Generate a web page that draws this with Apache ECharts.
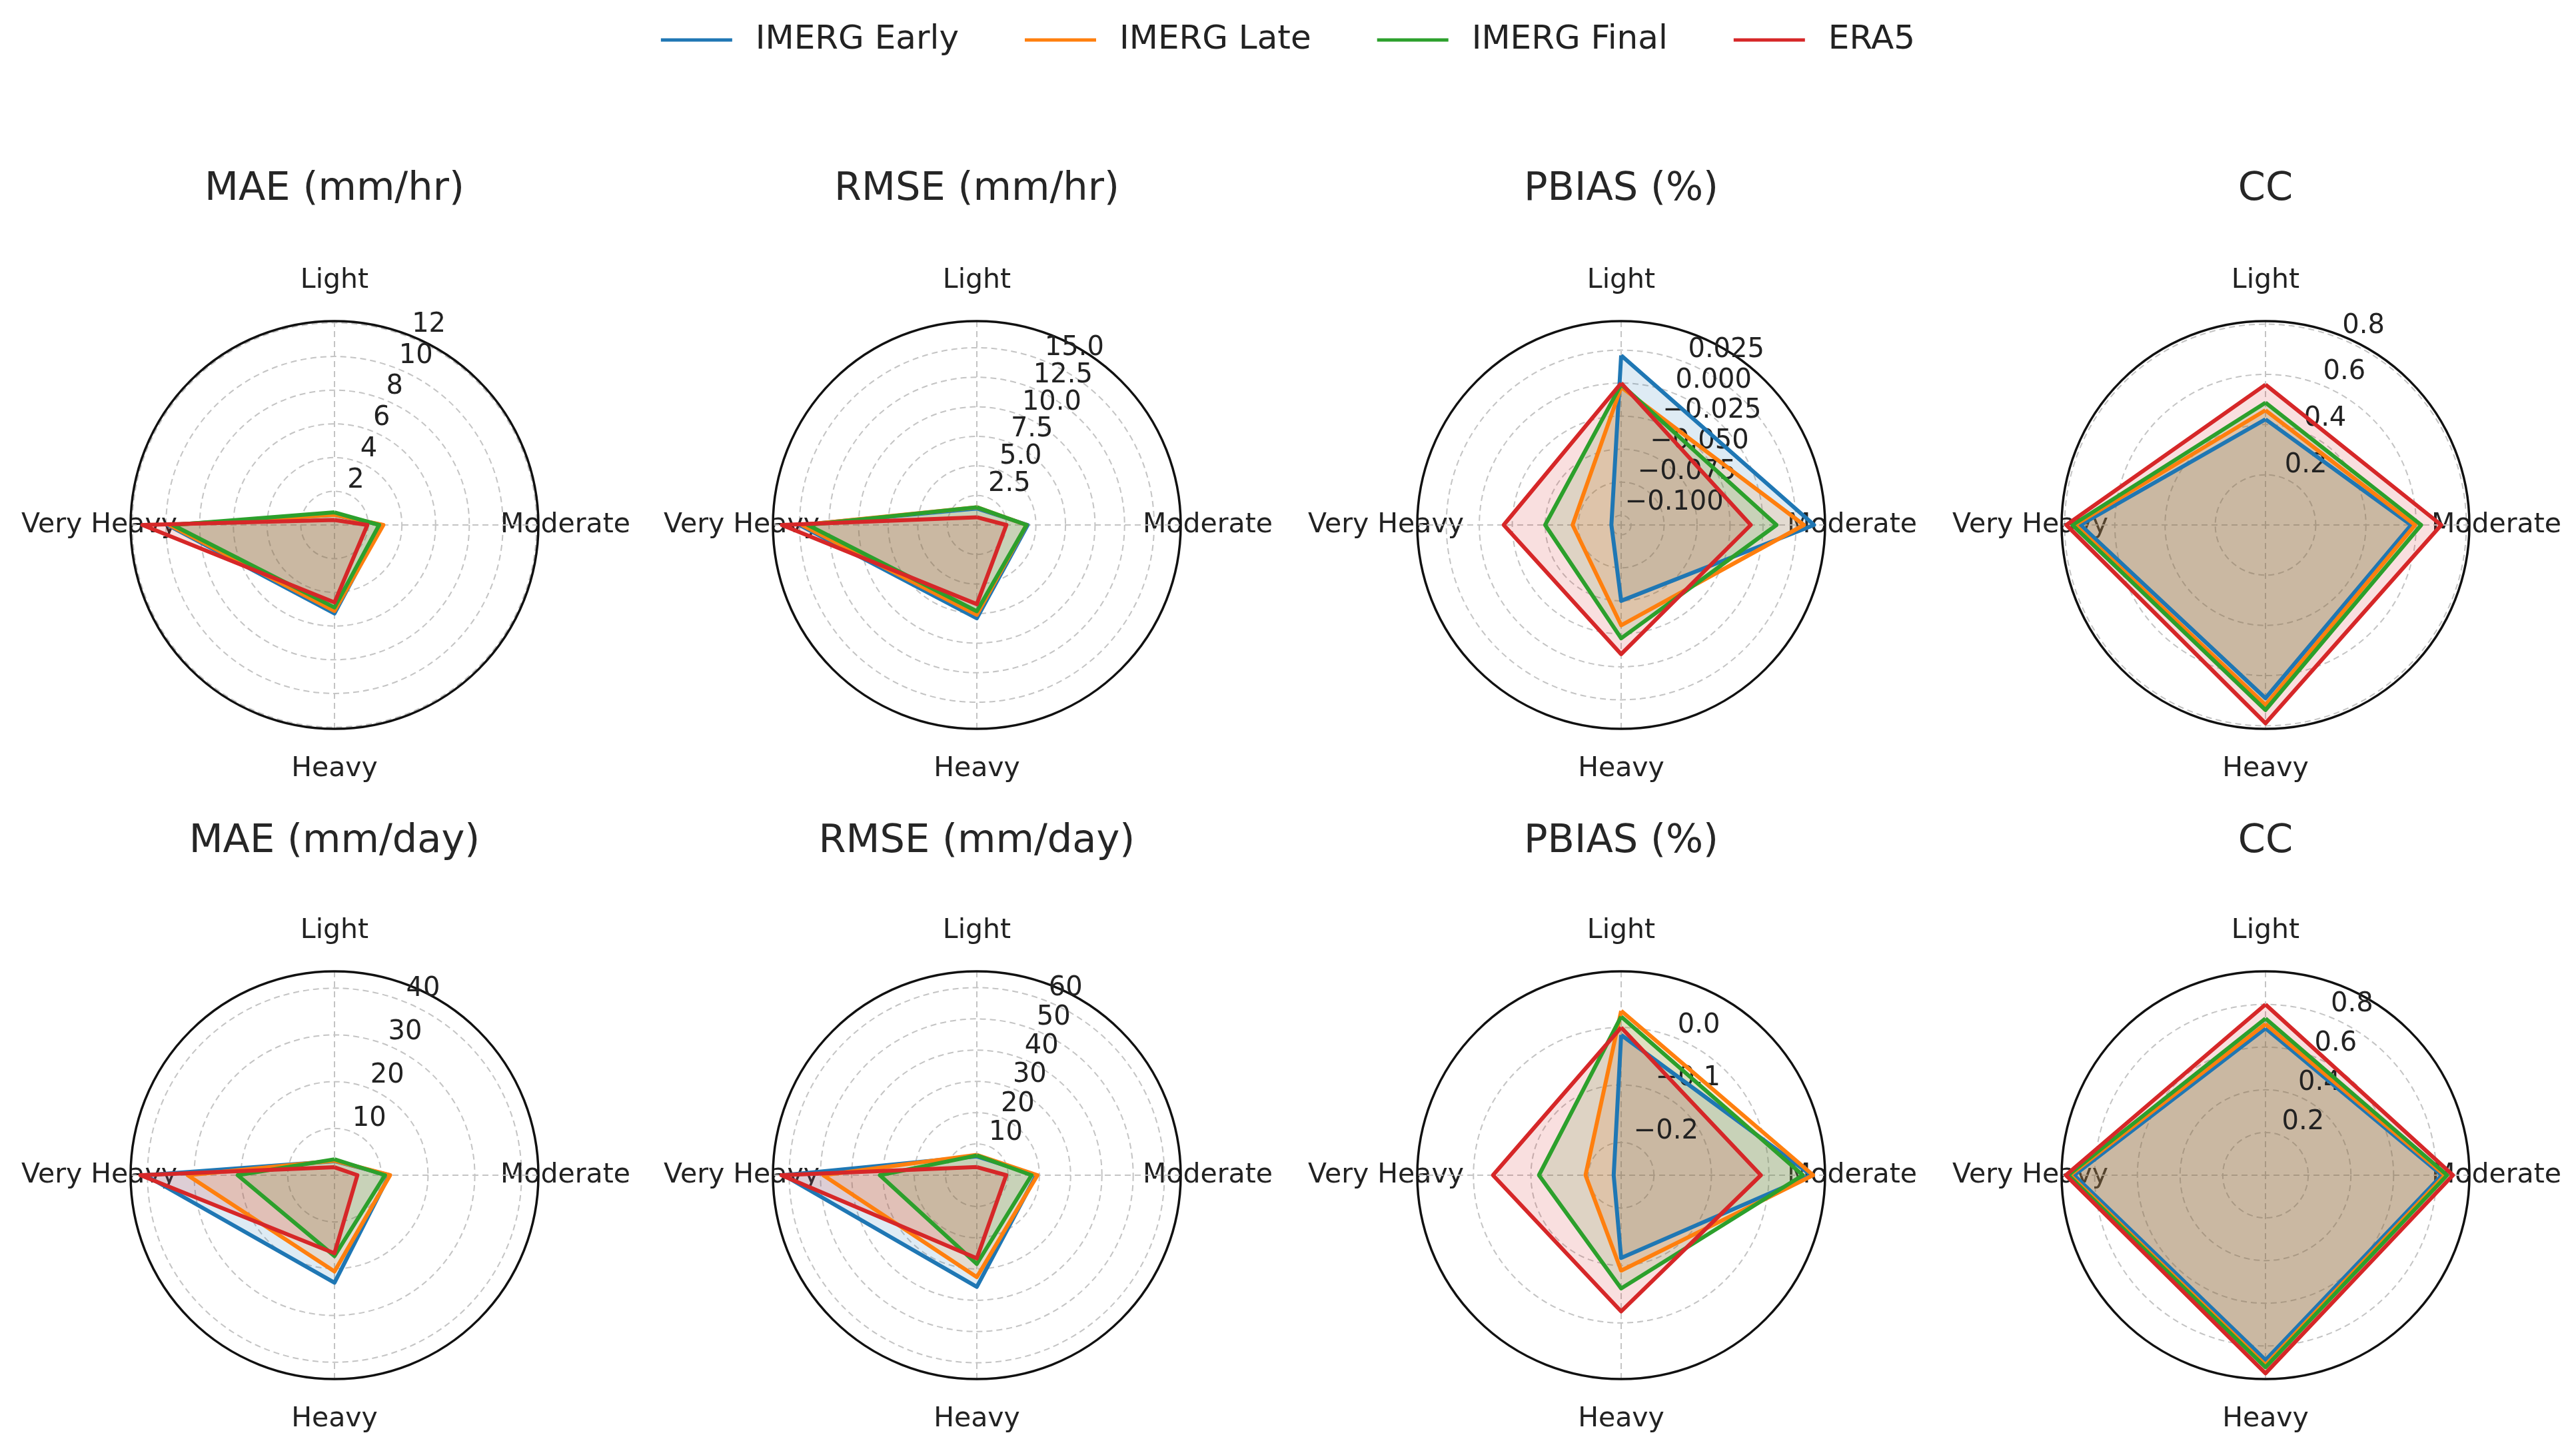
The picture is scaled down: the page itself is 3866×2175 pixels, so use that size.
<!DOCTYPE html>
<html>
<head>
<meta charset="utf-8">
<title>Radar comparison</title>
<script src="https://cdn.jsdelivr.net/npm/echarts@6.0.0/dist/echarts.min.js"></script>
<style>
  html, body { margin: 0; padding: 0; background: #fff; }
  #main { width: 3866px; height: 2175px; }
</style>
</head>
<body>
<div id="main"></div>
<script>
// categories go clockwise from the top
const categories = ['Light', 'Moderate', 'Heavy', 'Very Heavy'];
const seriesNames = ['IMERG Early', 'IMERG Late', 'IMERG Final', 'ERA5'];
const titles = ['MAE (mm/hr)', 'RMSE (mm/hr)', 'PBIAS (%)', 'CC',
                'MAE (mm/day)', 'RMSE (mm/day)', 'PBIAS (%)', 'CC'];

// rows: Early, Late, Final, ERA5 ; columns: Light, Moderate, Heavy, Very Heavy
const maeHr = [
  [0.6, 2.8, 5.25, 9.9],
  [0.6, 2.9, 5.1, 9.8],
  [0.75, 2.65, 4.9, 9.6],
  [0.3, 1.95, 4.6, 11.4]
];
const rmseHr = [
  [1.4, 4.3, 7.9, 15.0],
  [1.5, 4.2, 7.6, 14.8],
  [1.5, 4.2, 7.3, 14.3],
  [0.65, 2.5, 6.7, 16.5]
];
const pbiasHr = [
  [0.021, 0.0387, -0.050, -0.1001],
  [-0.003, 0.031, -0.0315, -0.0707],
  [-0.001, 0.0102, -0.0216, -0.0499],
  [0.000, -0.0093, -0.0096, -0.0185]
];
const ccHr = [
  [0.421, 0.58, 0.69, 0.737],
  [0.457, 0.596, 0.717, 0.758],
  [0.487, 0.62, 0.737, 0.769],
  [0.559, 0.70, 0.79, 0.793]
];
const maeDay = [
  [3.0, 11.7, 23.0, 40.5],
  [3.1, 11.9, 20.6, 31.4],
  [3.4, 10.8, 17.3, 20.7],
  [1.7, 4.9, 16.7, 41.5]
];
const rmseDay = [
  [6.0, 19.0, 35.7, 61.8],
  [6.5, 19.4, 32.6, 49.1],
  [6.3, 17.5, 28.4, 31.0],
  [2.6, 9.4, 26.6, 62.5]
];
const pbiasDay = [
  [-0.013, 0.074, -0.113, -0.244],
  [0.029, 0.077, -0.091, -0.195],
  [0.019, 0.059, -0.060, -0.114],
  [0.000, -0.014, -0.020, -0.034]
];
const ccDay = [
  [0.688, 0.826, 0.866, 0.897],
  [0.708, 0.84, 0.889, 0.915],
  [0.734, 0.851, 0.90, 0.924],
  [0.80, 0.878, 0.928, 0.935]
];

// radial scale of each panel
const axisMin = [0, 0, -0.1075, 0, 0, 0, -0.257, 0];
const axisMax = [12.1, 17.25, 0.047, 0.812, 43.6, 65.2, 0.0977, 0.955];
const axisStep = [2, 2.5, 0.025, 0.2, 10, 10, 0.1, 0.2];
const labelDecimals = [0, 1, 3, 1, 0, 0, 1, 1];

const panels = [maeHr, rmseHr, pbiasHr, ccHr, maeDay, rmseDay, pbiasDay, ccDay];

const colors = ['#1f77b4', '#ff7f0e', '#2ca02c', '#d62728'];
const fills = ['rgba(31,119,180,0.15)', 'rgba(255,127,14,0.15)',
               'rgba(44,160,44,0.15)', 'rgba(214,39,40,0.15)'];

const FONT = 'DejaVu Sans';
const colX = [502, 1466, 2433, 3400];
const rowY = [788, 1764];
const titleTop = [255, 1234];
const R = 306;
// the label polar is drawn larger (same scale per pixel) so the outer tick
// label is not pushed inwards at the end of its axis
const LABEL_K = 1.25;

const chart = echarts.init(document.getElementById('main'));

const gridLine = { color: '#c4c4c4', width: 2, type: [9, 6] };

function fmtTick(v, dec) {
  if (Math.abs(v) < 1e-9) v = 0;
  const s = v.toFixed(dec);
  return s.replace('-', '\u2212');
}

let polar = [], angleAxis = [], radiusAxis = [], series = [], title = [];

panels.forEach(function (rows, p) {
  const center = [colX[p % 4], rowY[Math.floor(p / 4)]];
  const step = axisStep[p];
  const lo = axisMin[p], hi = axisMax[p];

  // polar for the data, grid and category labels
  polar.push({ center: center, radius: R });
  // polar only used for the radial tick labels (22.5deg off the top)
  polar.push({ center: center, radius: R * LABEL_K });

  angleAxis.push({
    polarIndex: 2 * p, type: 'value', min: 0, max: 360, interval: 90,
    startAngle: 90, clockwise: true, z: 1,
    axisLine: { lineStyle: { color: '#111', width: 3.5 } },
    axisTick: { show: false },
    splitLine: { show: true, lineStyle: gridLine },
    axisLabel: {
      margin: -70,
      formatter: function (v) {
        const i = Math.round(v / 90);
        return i < categories.length ? '{k' + i + '|' + categories[i] + '}' : '';
      },
      rich: {
        k0: { fontSize: 41, fontFamily: FONT, color: '#222', padding: [0, 0, 110, 0] },
        k1: { fontSize: 41, fontFamily: FONT, color: '#222', padding: [0, 0, 0, 13] },
        k2: { fontSize: 41, fontFamily: FONT, color: '#222', padding: [110, 0, 0, 0] },
        k3: { fontSize: 41, fontFamily: FONT, color: '#222' }
      }
    }
  });
  angleAxis.push({
    polarIndex: 2 * p + 1, type: 'value', min: 0, max: 360,
    startAngle: 67.5, clockwise: true, show: false
  });

  radiusAxis.push({
    polarIndex: 2 * p, type: 'value', min: lo, max: hi,
    minInterval: step, maxInterval: step,
    axisLine: { show: false }, axisTick: { show: false }, axisLabel: { show: false },
    splitLine: { show: true, lineStyle: gridLine }
  });
  radiusAxis.push({
    polarIndex: 2 * p + 1, type: 'value', min: lo, max: lo + (hi - lo) * LABEL_K,
    minInterval: step, maxInterval: step, z: 3,
    axisLine: { show: false }, axisTick: { show: false }, splitLine: { show: false },
    axisLabel: {
      hideOverlap: false,
      align: 'left', verticalAlign: 'bottom', margin: 0,
      fontSize: 40, fontFamily: FONT, color: '#222',
      formatter: function (v) {
        // no label at the centre or beyond the outer ring
        if (v > hi + 1e-9 || v < lo + 1e-9) return '';
        return fmtTick(v, labelDecimals[p]);
      }
    }
  });

  rows.forEach(function (vals, s) {
    const closed = vals.concat([vals[0]]);
    series.push({
      type: 'line', name: seriesNames[s], coordinateSystem: 'polar', polarIndex: 2 * p,
      symbol: 'none', silent: true,
      data: closed.map(function (v, i) { return [v, i * 90]; }),
      lineStyle: { color: colors[s], width: 6, join: 'round' },
      itemStyle: { color: colors[s] },
      areaStyle: { color: fills[s], origin: 'start', opacity: 1 }
    });
  });

  title.push({
    text: titles[p], left: colX[p % 4], top: titleTop[Math.floor(p / 4)],
    textAlign: 'center', padding: 0,
    textStyle: { fontSize: 59, fontWeight: 'normal', color: '#262626', fontFamily: FONT }
  });
});

const option = {
  animation: false,
  backgroundColor: '#fff',
  title: title,
  legend: {
    data: seriesNames, top: 30, left: 'center',
    icon: 'rect', itemWidth: 107, itemHeight: 5, itemGap: 99,
    textStyle: { fontSize: 50, fontFamily: FONT, color: '#222', padding: [0, 0, 0, 30] }
  },
  polar: polar,
  angleAxis: angleAxis,
  radiusAxis: radiusAxis,
  series: series
};

chart.setOption(option);
</script>
</body>
</html>
